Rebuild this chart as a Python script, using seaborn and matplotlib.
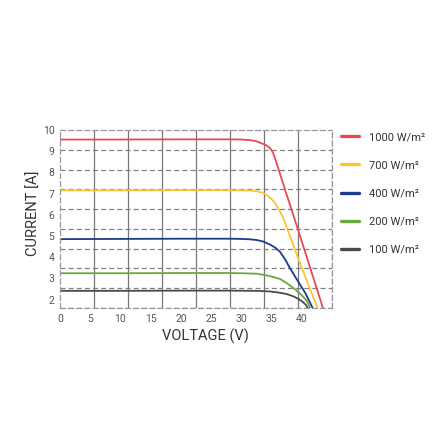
import matplotlib
matplotlib.use("Agg")
import matplotlib.pyplot as plt
import numpy as np
import pandas as pd
import seaborn as sns

# values (voltage in V, current in A)
labels = ["1000 W/m²", "700 W/m²", "400 W/m²", "200 W/m²", "100 W/m²"]
colors = ["#e84a55", "#fbc537", "#1d3a8c", "#6aa93c", "#4a4a4a"]

v_1000 = [0, 10, 20, 28, 30, 31.5, 32.5, 33.1, 34.0, 34.6, 35.0, 35.4, 36.4, 37.5, 38.9, 41.1, 43.5]
i_1000 = [9.55, 9.55, 9.56, 9.56, 9.55, 9.52, 9.47, 9.40, 9.30, 9.18, 9.05, 8.82, 7.93, 6.95, 5.72, 3.76, 1.6]

v_700 = [0, 10, 20, 28, 30, 31.5, 32.5, 33.5, 34.2, 35.0, 35.6, 36.1, 36.6, 37.2, 39.5, 42.6]
i_700 = [7.15, 7.15, 7.16, 7.16, 7.15, 7.14, 7.11, 7.04, 6.93, 6.75, 6.54, 6.30, 6.05, 5.65, 3.87, 1.6]

v_400 = [0, 10, 20, 28, 30, 31.5, 32.5, 33.7, 34.7, 35.6, 36.4, 37.3, 38.1, 38.9, 40.6, 41.8]
i_400 = [4.85, 4.86, 4.87, 4.87, 4.86, 4.84, 4.81, 4.73, 4.60, 4.45, 4.25, 3.87, 3.45, 3.08, 2.30, 1.6]

v_200 = [0, 10, 20, 28, 30, 32.5, 34.2, 35.2, 36.4, 37.5, 38.9, 40.0, 40.8, 41.4]
i_200 = [3.24, 3.24, 3.25, 3.25, 3.24, 3.22, 3.14, 3.07, 2.97, 2.78, 2.48, 2.20, 1.95, 1.6]

v_100 = [0, 10, 20, 28, 32.5, 34.8, 36.4, 37.6, 38.6, 39.5, 40.2, 40.7, 41.0]
i_100 = [2.41, 2.41, 2.42, 2.42, 2.41, 2.38, 2.32, 2.25, 2.15, 2.02, 1.88, 1.74, 1.6]

x_ticks = [0, 5, 10, 15, 20, 25, 30, 35, 40]
y_ticks = [2, 3, 4, 5, 6, 7, 8, 9, 10]

frames = []
for lab, v, i in zip(labels, [v_1000, v_700, v_400, v_200, v_100],
                     [i_1000, i_700, i_400, i_200, i_100]):
    frames.append(pd.DataFrame({"voltage": v, "current": i, "irradiance": lab}))
df = pd.concat(frames, ignore_index=True)

sns.set_theme(style="white")
plt.rcParams["font.family"] = ["Roboto", "DejaVu Sans"]

fig = plt.figure(figsize=(4.4, 4.4), dpi=100)
ax = fig.add_axes([60 / 440, 132 / 440, 272 / 440, 178 / 440])

sns.lineplot(data=df, x="voltage", y="current", hue="irradiance",
             hue_order=labels, palette=colors, sort=False,
             linewidth=1.3, ax=ax, legend=False)

ax.set_xlim(0, 45)
ax.set_ylim(1.6, 10)

# grid: 8 columns, 9 rows, independent of the tick labels
ax.set_xticks(np.linspace(0, 45, 9), minor=True)
ax.set_yticks(np.linspace(1.6, 10, 10), minor=True)
ax.set_xticks(x_ticks)
ax.set_yticks(y_ticks)
ax.set_xticklabels([str(t) for t in x_ticks])
ax.set_yticklabels([str(t) for t in y_ticks])
ax.tick_params(which="major", length=0, labelsize=7.5, labelcolor="#555555", pad=4)
ax.tick_params(which="minor", length=0)
ax.grid(False)
ax.grid(which="minor", axis="x", color="#777777", linewidth=0.9, linestyle="-")
ax.grid(which="minor", axis="y", color="#808080", linewidth=0.9, linestyle=(0, (4, 2.5)))
ax.set_axisbelow(True)

for sp in ax.spines.values():
    sp.set_linestyle((0, (4, 2.5)))
    sp.set_color("#999999")
    sp.set_linewidth(0.9)

ax.set_xlabel("VOLTAGE (V)", fontsize=10.5, color="#333333")
ax.set_ylabel("CURRENT [A]", fontsize=10.5, color="#333333")
ax.xaxis.set_label_coords((205 - 60) / 272, -(338 - 310) / 178)
ax.yaxis.set_label_coords((34 - 60) / 272, (310 - 215) / 178)
ax.xaxis.label.set_va("center")
ax.yaxis.label.set_va("center")

handles = [plt.Line2D([], [], color=c, linewidth=2.4) for c in colors]
fig.legend(handles, labels, loc="upper left", bbox_to_anchor=(341 / 440, 1 - 132 / 440),
           frameon=False, fontsize=8, handlelength=1.6, handletextpad=0.95,
           labelspacing=1.64, borderpad=0, borderaxespad=0, labelcolor="#333333")

fig.savefig("out.png", dpi=100, facecolor="white")
